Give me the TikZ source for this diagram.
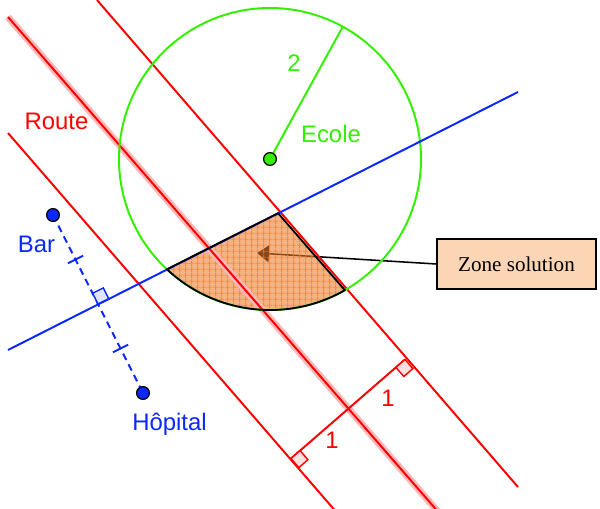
\documentclass[tikz,border=0pt]{standalone}
\usepackage{fontspec}
\setmainfont{Liberation Sans}
\newfontfamily\boxfont{Liberation Serif}
\usepackage{tikz}
\usetikzlibrary{arrows.meta, positioning, patterns.meta, calc}

\definecolor{ggRed}{RGB}{255,0,0}
\definecolor{ggGreen}{RGB}{51,240,0}
\definecolor{ggBlue}{RGB}{10,40,255}
\definecolor{zoneOrange}{RGB}{236,124,44}
\definecolor{peach}{RGB}{252,213,180}

\begin{document}
\begin{tikzpicture}[
    x=0.025cm, y=0.025cm,
    road/.style={ggRed, line width=1.4pt},
    glow/.style={ggRed!28, line width=5pt},
    corner/.style={draw=#1, fill=#1!12, line width=1pt},
    spot/.style={circle, draw=black, line width=0.9pt, fill=#1, inner sep=0pt, minimum size=0.32cm},
    lbl/.style={font=\fontsize{17}{20}\selectfont, text=#1},
    mediatrice/.style={ggBlue, line width=1.4pt},
    pointer/.style={-{Triangle[length=8.5pt, width=12pt]}, line width=1.1pt},
    legend/.style={rectangle, draw, line width=1pt, fill=peach, minimum width=3.97cm, minimum height=1.25cm, font=\boxfont\fontsize{15}{18}\selectfont}
]
\useasboundingbox (0,0) rectangle (600,508);

% Key points
\coordinate (ecoleC) at (270,349);
\coordinate (rad) at (342.8,481.3);
\coordinate (barP) at (53,293);
\coordinate (hopP) at (143,115);
\coordinate (mid) at (98,204);
\coordinate (ftA) at (291,49.5);
\coordinate (ftB) at (405,148.5);
\coordinate (zT) at (278.1,294.8);
\coordinate (zR) at (344.9,217.8);
\coordinate (tip) at (257,255);

% Road ends
\coordinate (r1) at (8,491);
\coordinate (r2) at (440,-6);
\coordinate (pR1) at (97,508);
\coordinate (pR2) at (518,21);
\coordinate (pL1) at (8,375);
\coordinate (pL2) at (338,-6);
\coordinate (m1) at (8,158);
\coordinate (m2) at (518,416);

% Legend box and pointer
\node[legend] (zbox) at (516.5,244) {Zone solution};
\draw[pointer] (zbox.west) -- (tip);

% Solution zone
\fill[zoneOrange, fill opacity=0.58] (zT) -- (zR) arc[start angle=299.7, end angle=226.9, radius=151] -- cycle;
\fill[pattern={Hatch[angle=0, distance=4pt, line width=0.6pt]}, pattern color=zoneOrange, fill opacity=0.7] (zT) -- (zR) arc[start angle=299.7, end angle=226.9, radius=151] -- cycle;

% Roads
\draw[glow] (r1) -- (r2);
\draw[road] (r1) -- (r2);
\draw[road] (pR1) -- (pR2);
\draw[road] (pL1) -- (pL2);
\draw[road] (ftA) -- (ftB);
\draw[corner=ggRed] (ftA) -- (300.1,57.4) -- (307.9,48.3) -- (298.9,40.4) -- cycle;
\draw[corner=ggRed] (ftB) -- (395.9,140.6) -- (403.8,131.5) -- (412.9,139.4) -- cycle;

% School circle
\draw[ggGreen, line width=1.4pt] (ecoleC) circle[radius=151];
\draw[ggGreen, line width=1.4pt] (ecoleC) -- (rad);

% Perpendicular bisector
\draw[mediatrice] (m1) -- (m2);
\draw[mediatrice, dash pattern=on 5pt off 3.5pt] (barP) -- (hopP);
\draw[mediatrice] (67.9,244.7) -- (83.1,252.3);
\draw[mediatrice] (112.9,155.7) -- (128.1,163.3);
\draw[corner=ggBlue] (mid) -- (92.6,214.7) -- (103.3,220.1) -- (108.7,209.4) -- cycle;

% Zone outline
\draw[line width=1.3pt, line join=round] (zT) -- (zR) arc[start angle=299.7, end angle=226.9, radius=151] -- cycle;

% Points
\node[spot=ggGreen] (ecole) at (ecoleC) {};
\node[spot=ggBlue] (bar) at (barP) {};
\node[spot=ggBlue] (hopital) at (hopP) {};

% Labels
\node[lbl=ggRed] (route) at (56.5,387) {Route};
\node[lbl=ggGreen] (ecoleLbl) at (331,374.5) {Ecole};
\node[lbl=ggGreen] (two) at (294,444.5) {2};
\node[lbl=ggBlue] (barLbl) at (36.5,264) {Bar};
\node[lbl=ggBlue, anchor=base] (hopLbl) at (169.5,77) {Hôpital};
\node[lbl=ggRed] (oneA) at (388,109.5) {1};
\node[lbl=ggRed] (oneB) at (332,68) {1};

\end{tikzpicture}
\end{document}
